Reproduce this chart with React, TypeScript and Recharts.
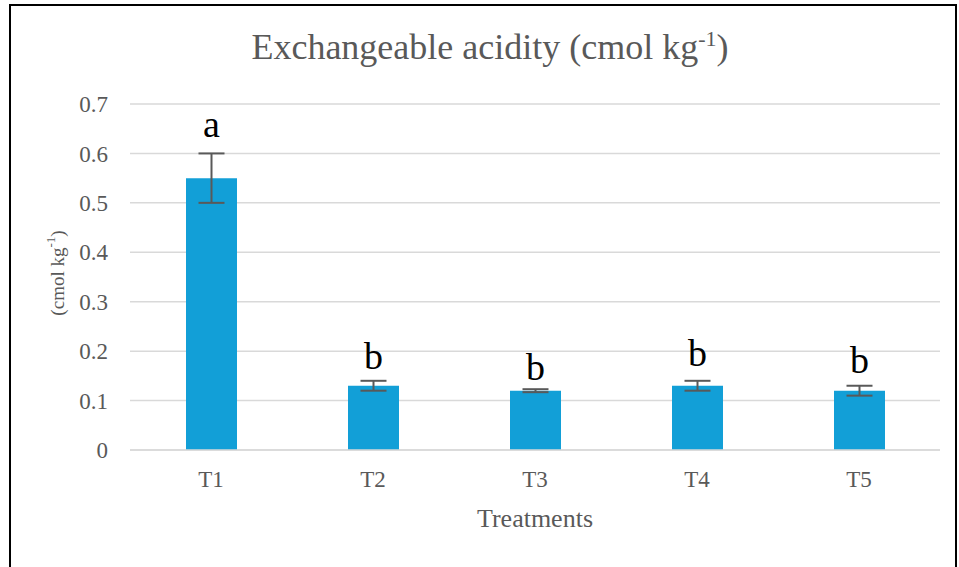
import React from "react"
import { ComposedChart, Bar, ErrorBar, XAxis, YAxis, CartesianGrid, LabelList } from "recharts"

const treatments = ["T1", "T2", "T3", "T4", "T5"]
const acidity = [0.55, 0.13, 0.12, 0.13, 0.12]
const stdErr = [0.05, 0.01, 0.003, 0.01, 0.01]
const letters = ["a", "b", "b", "b", "b"]
// baseline of each significance letter, in axis units (placed by hand in the source)
const letterAt = [0.633, 0.164, 0.142, 0.17, 0.156]
const yTicks = [0, 0.1, 0.2, 0.3, 0.4, 0.5, 0.6, 0.7]

const data = treatments.map((t, i) => ({ name: t, value: acidity[i], err: stdErr[i] }))

const serif = "Liberation Serif"
const gray = "#595959"

const LetterLabel = (props: any) => {
  const { x, y, width, height, value, index } = props
  if (!value) return null
  const perUnit = height / value
  const by = y + height - letterAt[index] * perUnit
  return (
    <text x={x + width / 2} y={by} textAnchor="middle" style={{ fontSize: 38, fontFamily: serif }} fill="#000">
      {letters[index]}
    </text>
  )
}

const YLabel = (props: any) => {
  const vb = props.viewBox || {}
  const cx = 57
  const cy = (vb.y ?? 104) + (vb.height ?? 346) / 2 - 4
  return (
    <text transform={`translate(${cx},${cy}) rotate(-90)`} textAnchor="middle" dominantBaseline="central" style={{ fontSize: 19, fontFamily: serif }} fill={gray}>
      (cmol kg<tspan style={{ fontSize: 13 }} dy={-7}>-1</tspan><tspan dy={7}>)</tspan>
    </text>
  )
}

const tickStyle = { fill: gray, fontSize: 23, fontFamily: serif, style: { fontSize: 23, fontFamily: serif } }

export default function App() {
  return (
    <div style={{ position: "fixed", left: 0, top: 0, width: 959, height: 567, background: "#fff", overflow: "hidden", fontFamily: serif }}>
      <div style={{ position: "absolute", left: 9, top: 4, width: 944, height: 620, borderLeft: "2px solid #000", borderTop: "2px solid #000", borderRight: "2px solid #000" }} />
      <div style={{ position: "absolute", left: 0, width: 980, top: 26, textAlign: "center", fontFamily: serif, fontSize: 36, color: gray, whiteSpace: "nowrap" }}>
        Exchangeable acidity (cmol kg<sup style={{ fontSize: 22, verticalAlign: 0, position: "relative", top: -13 }}>-1</sup>)
      </div>
      <div style={{ position: "absolute", left: 0, top: 0 }}>
        <ComposedChart width={959} height={567} data={data} margin={{ top: 104, right: 19, left: 0, bottom: 37 }} style={{ fontFamily: serif }}>
          <CartesianGrid vertical={false} stroke="#d9d9d9" strokeWidth={1.5} />
          <XAxis
            dataKey="name"
            height={80}
            tickSize={0}
            tickMargin={21}
            axisLine={{ stroke: "#d9d9d9", strokeWidth: 1.5 }}
            tick={tickStyle}
            label={{ value: "Treatments", position: "insideBottom", offset: 3, fill: gray, fontSize: 26, fontFamily: serif, style: { fontSize: 26, fontFamily: serif } }}
          />
          <YAxis
            width={130}
            domain={[0, 0.7]}
            ticks={yTicks}
            tickSize={0}
            tickMargin={22}
            axisLine={false}
            tick={tickStyle}
            label={<YLabel />}
          />
          <Bar dataKey="value" fill="#129fd7" barSize={51} isAnimationActive={false}>
            <ErrorBar dataKey="err" width={13} stroke={gray} strokeWidth={2} direction="y" />
            <LabelList dataKey="value" content={LetterLabel} />
          </Bar>
        </ComposedChart>
      </div>
    </div>
  )
}
